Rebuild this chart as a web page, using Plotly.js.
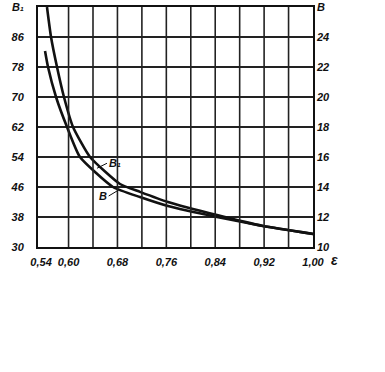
<!DOCTYPE html>
<html>
<head>
<meta charset="utf-8">
<script src="https://cdn.plot.ly/plotly-3.0.1.min.js"></script>
<style>html,body{margin:0;padding:0;background:#fff;}#chart{width:385px;height:372px;}</style>
</head>
<body>
<div id="chart"></div>
<script>
// Curve B1 (left axis)
const epsB1 = [0.5647, 0.5713, 0.5811, 0.5925, 0.6073, 0.6351, 0.6842, 0.7169, 0.7627, 0.8429, 0.9182, 1.0000];
const valB1 = [94.0, 86.0, 78.0, 70.0, 62.0, 54.0, 46.8, 44.7, 42.0, 38.5, 35.6, 33.5];
// Curve B (right axis)
const epsB = [0.5615, 0.5664, 0.5795, 0.5975, 0.6187, 0.6727, 0.7169, 0.7627, 0.8429, 0.9182, 1.0000];
const valB = [23.07, 22.0, 20.0, 18.0, 16.0, 14.0, 13.33, 12.73, 12.0, 11.4, 10.87];

const xTickVals = [0.555, 0.60, 0.64, 0.68, 0.72, 0.76, 0.80, 0.84, 0.88, 0.92, 0.96, 1.00];
const xTickText = ["0,54", "0,60", "", "0,68", "", "0,76", "", "0,84", "", "0,92", "", "1,00"];
const xGridVals = [0.60, 0.64, 0.68, 0.72, 0.76, 0.80, 0.84, 0.88, 0.92, 0.96];
const yLeftVals = [30, 38, 46, 54, 62, 70, 78, 86, 94];
const yLeftText = ["30", "38", "46", "54", "62", "70", "78", "86", "B₁"];
const yRightVals = [10, 12, 14, 16, 18, 20, 22, 24, 26];
const yRightText = ["10", "12", "14", "16", "18", "20", "22", "24", "B"];

const tickFont = {family: "Liberation Sans, Arial, sans-serif", size: 11, color: "#111", style: "italic", weight: 700};

const traces = [
  {x: epsB1, y: valB1, type: "scatter", mode: "lines", line: {color: "#111", width: 2.6, shape: "spline", smoothing: 0.5}, yaxis: "y", hoverinfo: "skip"},
  {x: epsB, y: valB, type: "scatter", mode: "lines", line: {color: "#111", width: 2.6, shape: "spline", smoothing: 0.5}, yaxis: "y2", hoverinfo: "skip"}
];

const shapes = xGridVals.map(v => ({type: "line", xref: "x", yref: "paper", x0: v, x1: v, y0: 0, y1: 1, line: {color: "#222", width: 1.6}}));

const layout = {
  width: 385, height: 372,
  margin: {l: 38, r: 72, t: 7, b: 125},
  paper_bgcolor: "#fff", plot_bgcolor: "#fff",
  showlegend: false,
  xaxis: {range: [0.55, 1.0], tickvals: xTickVals, ticktext: xTickText, showgrid: false, zeroline: false,
    showline: true, linecolor: "#111", linewidth: 2, mirror: true, ticks: "", ticklabelstandoff: 4, tickfont: tickFont},
  yaxis: {range: [30, 94], tickvals: yLeftVals, ticktext: yLeftText, showgrid: true, gridcolor: "#222", gridwidth: 1.6,
    zeroline: false, showline: true, linecolor: "#111", linewidth: 2, mirror: true, ticks: "", ticklabelstandoff: 10, tickfont: tickFont},
  yaxis2: {range: [10, 26], tickvals: yRightVals, ticktext: yRightText, overlaying: "y", side: "right", showgrid: false,
    zeroline: false, showline: false, ticks: "", ticklabelstandoff: 3, tickfont: tickFont},
  shapes: shapes,
  annotations: [
    {x: 0.6465, y: 51.0, xref: "x", yref: "y", text: "B₁", showarrow: true, arrowhead: 0, arrowwidth: 1, arrowcolor: "#111",
     ax: 10, ay: -5, xanchor: "left", font: tickFont},
    {x: 0.682, y: 13.8, xref: "x", yref: "y2", text: "B", showarrow: true, arrowhead: 0, arrowwidth: 1, arrowcolor: "#111",
     ax: -10, ay: 6, xanchor: "right", font: tickFont},
    {x: 1.0, y: 0, xref: "x", yref: "paper", text: "ε", showarrow: false, xanchor: "left", yanchor: "top", xshift: 16, yshift: -3,
     font: {family: "Liberation Sans, Arial, sans-serif", size: 14, color: "#111", style: "italic", weight: 700}}
  ]
};

Plotly.newPlot("chart", traces, layout, {displayModeBar: false, staticPlot: true});
</script>
</body>
</html>
